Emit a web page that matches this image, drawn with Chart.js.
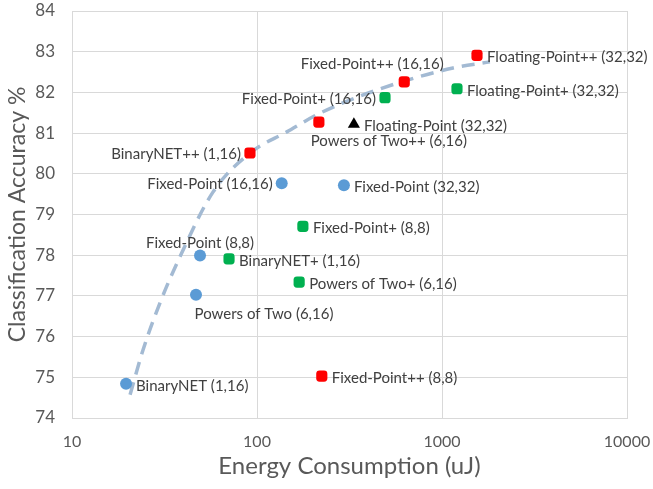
<!DOCTYPE html>
<html>
<head>
<meta charset="utf-8">
<script src="https://cdn.jsdelivr.net/npm/chart.js@4/dist/chart.umd.min.js"></script>
<style>
  html, body { margin: 0; padding: 0; background: #ffffff; }
  #wrap { width: 653px; height: 489px; position: relative; }
</style>
</head>
<body>
<div id="wrap"><canvas id="c"></canvas></div>
<script>
// ---- data ----
const xTicks = [10, 100, 1000, 10000];

const baseNames  = ["BinaryNET (1,16)", "Powers of Two (6,16)", "Fixed-Point (8,8)", "Fixed-Point (16,16)", "Fixed-Point (32,32)"];
const baseEnergy = [19.6, 46.8, 49.2, 136, 295];
const baseAcc    = [74.84, 77.03, 77.99, 79.77, 79.72];

const plusNames  = ["BinaryNET+ (1,16)", "Powers of Two+ (6,16)", "Fixed-Point+ (8,8)", "Fixed-Point+ (16,16)", "Floating-Point+ (32,32)"];
const plusEnergy = [70.6, 169, 177, 492, 1205];
const plusAcc    = [77.91, 77.34, 78.71, 81.87, 82.09];

const ppNames  = ["Fixed-Point++ (8,8)", "BinaryNET++ (1,16)", "Powers of Two++ (6,16)", "Fixed-Point++ (16,16)", "Floating-Point++ (32,32)"];
const ppEnergy = [224, 91.6, 216, 625, 1546];
const ppAcc    = [75.03, 80.51, 81.27, 82.26, 82.91];

const floatNames  = ["Floating-Point (32,32)"];
const floatEnergy = [334];
const floatAcc    = [81.22];

const trendEnergy = [20.6, 24.2, 29.9, 37.0, 57.8, 91.6, 145, 219, 445, 1146, 1816];
const trendAcc    = [74.57, 75.67, 76.83, 77.81, 79.55, 80.51, 81.03, 81.49, 82.06, 82.60, 82.75];

// ---- label placement (style only) ----
const labelPlacement = {
  "BinaryNET (1,16)": {pos: "right"},
  "Powers of Two (6,16)": {pos: "below", dx: 68},
  "Fixed-Point (8,8)": {pos: "above"},
  "Fixed-Point (16,16)": {pos: "left"},
  "Fixed-Point (32,32)": {pos: "right"},
  "BinaryNET+ (1,16)": {pos: "right"},
  "Powers of Two+ (6,16)": {pos: "right"},
  "Fixed-Point+ (8,8)": {pos: "right"},
  "Fixed-Point+ (16,16)": {pos: "left"},
  "Floating-Point+ (32,32)": {pos: "right"},
  "Fixed-Point++ (8,8)": {pos: "right"},
  "BinaryNET++ (1,16)": {pos: "left"},
  "Powers of Two++ (6,16)": {pos: "below", dx: 70},
  "Fixed-Point++ (16,16)": {pos: "above", dx: -32, dy: -6},
  "Floating-Point++ (32,32)": {pos: "right"},
  "Floating-Point (32,32)": {pos: "right"}
};

const FONT = "Lato, 'Open Sans', sans-serif";
const TEXT = "#404040";
const AXIS_TEXT = "#595959";

function pts(xs, ys) { return xs.map((x, i) => ({x: x, y: ys[i]})); }

const labelPlugin = {
  id: "pointLabels",
  afterDatasetsDraw(chart) {
    const ctx = chart.ctx;
    ctx.save();
    ctx.font = "15px " + FONT;
    ctx.fillStyle = TEXT;
    chart.data.datasets.forEach((ds, di) => {
      if (!ds.names) return;
      const meta = chart.getDatasetMeta(di);
      meta.data.forEach((el, i) => {
        const name = ds.names[i];
        const p = labelPlacement[name] || {pos: "right"};
        let x = el.x, y = el.y;
        const dx = p.dx || 0, dy = p.dy || 0;
        ctx.textBaseline = "middle";
        if (p.pos === "right") { ctx.textAlign = "left"; x += 10; y += 2; }
        else if (p.pos === "left") { ctx.textAlign = "right"; x -= 9; y += 1; }
        else if (p.pos === "above") { ctx.textAlign = "center"; y -= 12; }
        else if (p.pos === "below") { ctx.textAlign = "center"; y += 19; }
        ctx.fillText(name, x + dx, y + dy);
      });
    });
    ctx.restore();
  }
};

new Chart(document.getElementById("c"), {
  type: "scatter",
  data: {
    datasets: [
      {
        type: "line",
        data: pts(trendEnergy, trendAcc),
        borderColor: "#a3bad3",
        borderWidth: 3.5,
        borderDash: [13, 8],
        pointRadius: 0,
        fill: false,
        tension: 0.4,
        cubicInterpolationMode: "monotone",
        order: 10
      },
      {
        names: baseNames,
        data: pts(baseEnergy, baseAcc),
        pointStyle: "circle",
        pointRadius: 6,
        backgroundColor: "#5b9bd5",
        borderColor: "#5b9bd5",
        borderWidth: 0,
        order: 1
      },
      {
        names: plusNames,
        data: pts(plusEnergy, plusAcc),
        pointStyle: "rectRounded",
        pointRadius: 6.5,
        backgroundColor: "#00b050",
        borderColor: "#00b050",
        borderWidth: 0,
        order: 1
      },
      {
        names: ppNames,
        data: pts(ppEnergy, ppAcc),
        pointStyle: "rectRounded",
        pointRadius: 6.5,
        backgroundColor: "#ff0000",
        borderColor: "#ff0000",
        borderWidth: 0,
        order: 1
      },
      {
        names: floatNames,
        data: pts(floatEnergy, floatAcc),
        pointStyle: "triangle",
        pointRadius: 7,
        backgroundColor: "#000000",
        borderColor: "#000000",
        borderWidth: 0,
        order: 1
      }
    ]
  },
  options: {
    responsive: true,
    maintainAspectRatio: false,
    animation: false,
    layout: { padding: { top: 11, right: 26, bottom: 0, left: 0 } },
    plugins: {
      legend: { display: false },
      tooltip: { enabled: false }
    },
    scales: {
      x: {
        type: "logarithmic",
        min: 10,
        max: 10000,
        afterBuildTicks(scale) { scale.ticks = xTicks.map(v => ({value: v, major: true})); },
        afterFit(scale) { scale.height = 71; },
        grid: { color: "#d9d9d9", lineWidth: 1, drawTicks: true, tickLength: 14, tickColor: "rgba(0,0,0,0)" },
        border: { color: "#d9d9d9" },
        ticks: {
          color: AXIS_TEXT,
          font: { family: FONT, size: 16 },
          padding: 0,
          autoSkip: false,
          maxRotation: 0,
          callback: (v) => String(v)
        },
        title: {
          display: true,
          text: "Energy Consumption (uJ)",
          color: AXIS_TEXT,
          font: { family: FONT, size: 24 },
          padding: { top: 0, bottom: 8 }
        }
      },
      y: {
        type: "linear",
        min: 74,
        max: 84,
        afterFit(scale) { scale.width = 72; },
        grid: { color: "#d9d9d9", lineWidth: 1, drawTicks: true, tickLength: 17, tickColor: "rgba(0,0,0,0)" },
        border: { color: "#d9d9d9" },
        ticks: {
          stepSize: 1,
          color: AXIS_TEXT,
          font: { family: FONT, size: 17 },
          padding: 0
        },
        title: {
          display: true,
          text: "Classification Accuracy %",
          color: AXIS_TEXT,
          font: { family: FONT, size: 23 },
          padding: { top: 4, bottom: 0 }
        }
      }
    }
  },
  plugins: [labelPlugin]
});
</script>
</body>
</html>
